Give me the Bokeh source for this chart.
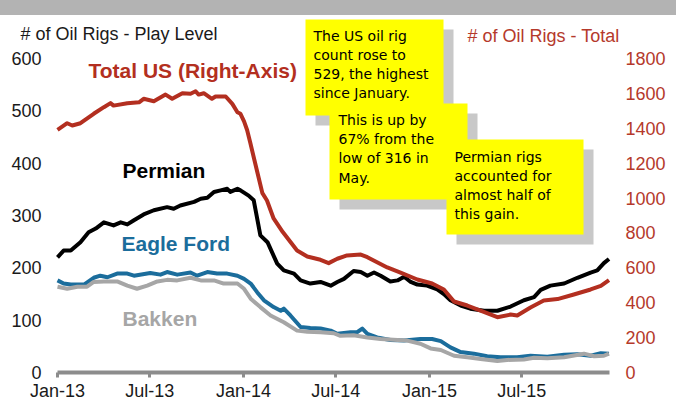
from bokeh.plotting import figure
from bokeh.models import Range1d, LinearAxis, FixedTicker, Label, BoxAnnotation, Div
from bokeh.layouts import column
from bokeh.embed import file_html
from bokeh.resources import INLINE

# ---- data (x = days since 2013-01-01, weekly rig counts) ----
tick_days = [0, 181, 365, 546, 730, 911]
tick_labels = ["Jan-13", "Jul-13", "Jan-14", "Jul-14", "Jan-15", "Jul-15"]
left_ticks = [0, 100, 200, 300, 400, 500, 600]
right_ticks = [0, 200, 400, 600, 800, 1000, 1200, 1400, 1600, 1800]

total_days = [0, 19, 29, 45, 71, 91, 104, 110, 137, 160, 169, 189, 212, 225, 245, 261, 271, 277, 287, 303,
              310, 330, 343, 353, 359, 366, 372, 378, 385, 402, 411, 424, 442, 470, 490, 516, 532, 549, 568, 595,
              608, 627, 647, 673, 706, 735, 758, 778, 804, 830, 863, 889, 902, 928, 954, 981, 1013, 1046, 1066, 1082]
total_vals = [1391, 1429, 1416, 1429, 1483, 1521, 1544, 1530, 1544, 1549, 1569, 1555, 1593, 1569, 1601, 1598, 1612, 1593, 1601, 1569,
              1582, 1582, 1540, 1492, 1483, 1440, 1390, 1320, 1234, 1028, 986, 883, 805, 699, 665, 646, 627, 652, 671, 676,
              661, 632, 602, 573, 533, 510, 476, 407, 384, 355, 317, 332, 327, 373, 413, 421, 447, 476, 496, 529]

permian_days = [0, 12, 26, 45, 61, 75, 91, 110, 124, 137, 150, 169, 189, 215, 228, 241, 268, 281, 294, 307,
                320, 333, 339, 353, 359, 375, 385, 398, 412, 431, 444, 464, 477, 496, 516, 536, 549, 562, 581, 595,
                608, 621, 634, 653, 667, 680, 693, 706, 725, 745, 758, 771, 791, 810, 837, 863, 889, 915, 935, 948,
                967, 994, 1020, 1046, 1059, 1072, 1082]
permian_vals = [220, 233, 233, 249, 268, 275, 287, 281, 287, 283, 291, 302, 310, 316, 313, 319, 326, 332, 334, 345,
                348, 351, 345, 351, 348, 338, 329, 262, 249, 208, 195, 189, 176, 170, 173, 166, 173, 179, 194, 192,
                185, 191, 185, 174, 176, 183, 173, 168, 166, 159, 150, 138, 128, 122, 118, 118, 126, 138, 144, 158,
                166, 170, 181, 191, 195, 209, 217]

eagle_days = [0, 12, 26, 52, 71, 84, 98, 117, 137, 150, 182, 202, 215, 235, 261, 274, 294, 313, 333, 353,
              366, 379, 392, 405, 424, 438, 444, 457, 477, 496, 516, 536, 549, 575, 588, 598, 608, 627, 653, 680,
              712, 735, 752, 771, 791, 817, 843, 869, 902, 928, 961, 994, 1020, 1046, 1066, 1082]
eagle_vals = [176, 170, 168, 168, 181, 185, 182, 189, 189, 185, 190, 187, 192, 187, 191, 185, 192, 189, 189, 185,
              179, 170, 153, 138, 125, 118, 122, 109, 87, 85, 84, 80, 74, 77, 77, 84, 74, 67, 62, 61,
              64, 64, 60, 48, 39, 36, 31, 29, 29, 32, 30, 34, 35, 32, 37, 36]

bakken_days = [0, 19, 39, 58, 71, 91, 117, 137, 156, 176, 196, 215, 235, 261, 281, 307, 326, 353, 366, 379,
               398, 418, 444, 470, 490, 516, 542, 555, 581, 608, 634, 667, 686, 712, 732, 752, 778, 804, 830, 863,
               882, 915, 935, 961, 994, 1033, 1053, 1072, 1082]
bakken_vals = [164, 160, 164, 164, 173, 174, 174, 166, 160, 166, 174, 177, 176, 181, 176, 176, 170, 170, 160, 141,
               125, 109, 96, 80, 78, 77, 75, 70, 71, 67, 64, 62, 61, 55, 46, 43, 32, 29, 26, 22,
               24, 25, 28, 27, 29, 36, 31, 32, 36]

RED = "#b32f20"
RED_TXT = "#b5392b"
BLUE = "#1b6d9c"
GRAY = "#a6a6a6"
AXIS_GRAY = "#8c8c8c"
FONT = "Liberation Sans"

W, H_BAND, H = 676, 15, 389
FL, FR = 16, 636          # frame left/right (page px)
AX0, AX1 = 57, 609        # x-axis extent (page px) for day 0 .. 1083


def dx(px):
    return (px - AX0) * 1083 / (AX1 - AX0)


def dy(py):
    return (372 - py) * 600 / 314


p = figure(width=W, height=H, output_backend="svg", toolbar_location=None,
           x_range=Range1d(dx(FL), dx(FR)), y_range=Range1d(0, dy(H_BAND)),
           min_border_left=FL, min_border_right=W - FR, min_border_top=0, min_border_bottom=H - (372 - H_BAND),
           outline_line_color=None)
p.xgrid.visible = False
p.ygrid.visible = False
p.extra_y_ranges = {"total": Range1d(0, dy(H_BAND) * 3)}

ya = p.yaxis[0]
ya.ticker = FixedTicker(ticks=left_ticks)
ya.axis_line_color = None
ya.major_tick_line_color = None
ya.minor_tick_line_color = None
ya.major_tick_out = 0
ya.major_label_standoff = FL - 41
ya.major_label_text_font = FONT
ya.major_label_text_font_size = "18px"
ya.major_label_text_color = "#1a1a1a"

ra = LinearAxis(y_range_name="total", ticker=FixedTicker(ticks=right_ticks))
ra.axis_line_color = None
ra.major_tick_line_color = None
ra.minor_tick_line_color = None
ra.major_tick_out = 0
ra.major_label_standoff = 625 - FR
ra.major_label_text_font = FONT
ra.major_label_text_font_size = "18px"
ra.major_label_text_color = RED_TXT
p.add_layout(ra, "right")

xa = p.xaxis[0]
xa.bounds = (0, 1083)
xa.ticker = FixedTicker(ticks=tick_days)
xa.major_label_overrides = {d: t for d, t in zip(tick_days, tick_labels)}
xa.axis_line_color = AXIS_GRAY
xa.axis_line_width = 4
xa.major_tick_line_color = AXIS_GRAY
xa.major_tick_line_width = 3
xa.major_tick_in = 0
xa.major_tick_out = 5
xa.minor_tick_line_color = None
xa.major_label_standoff = 3
xa.major_label_text_font = FONT
xa.major_label_text_font_size = "18px"
xa.major_label_text_color = "#1a1a1a"

p.line(eagle_days, eagle_vals, line_width=4, color=BLUE, line_join="round")
p.line(bakken_days, bakken_vals, line_width=4, color=GRAY, line_join="round")
p.line(permian_days, permian_vals, line_width=4, color="black", line_join="round")
p.line(total_days, total_vals, line_width=4, color=RED, line_join="round", y_range_name="total")


def label(text, px, py, color, size, bold=False, font=FONT):
    p.add_layout(Label(x=dx(px), y=dy(py), text=text, text_color=color,
                       text_font_size=f"{size}px", text_font=font,
                       text_font_style="bold" if bold else "normal",
                       text_baseline="middle", text_align="left"))


label("# of Oil Rigs -    Play Level", 20, 33, "#1a1a1a", 18)
label("# of Oil Rigs -   Total", 467, 35, RED_TXT, 18)
label("Total US (Right-Axis)", 88, 70, RED, 21, bold=True)
label("Permian", 122, 170, "black", 21, bold=True)
label("Eagle Ford", 121, 243, BLUE, 21, bold=True)
label("Bakken", 122, 318, GRAY, 21, bold=True)

notes = [
    ((305, 19, 443, 115), 313, [35, 54.5, 73.5, 92.5],
     ["The US oil rig", "count rose to", "529, the highest", "since January."]),
    ((329, 103, 467, 199), 338, [119.5, 138.5, 157.5, 177],
     ["This is up by", "67% from the", "low of 316 in", "May."]),
    ((446, 139, 583, 234), 454, [156, 175, 194, 213],
     ["Permian rigs", "accounted for", "almost half of", "this gain."]),
]
for (x0, y0, x1, y1), tx, tys, lines in notes:
    p.add_layout(BoxAnnotation(left=dx(x0 + 10), right=dx(x1 + 10), top=dy(y0 + 10), bottom=dy(y1 + 10),
                               fill_color="#c8c8c8", fill_alpha=1, line_color=None))
    p.add_layout(BoxAnnotation(left=dx(x0), right=dx(x1), top=dy(y0), bottom=dy(y1),
                               fill_color="#ffff00", fill_alpha=1, line_color=None))
    for ty, t in zip(tys, lines):
        label(t, tx, ty, "black", 14, font="DejaVu Sans")

band = Div(text="", width=W, height=H_BAND, margin=0, styles={"background-color": "#b3b3b3"})
layout = column(band, p, spacing=0)

open("out.html", "w").write(file_html(layout, INLINE))
